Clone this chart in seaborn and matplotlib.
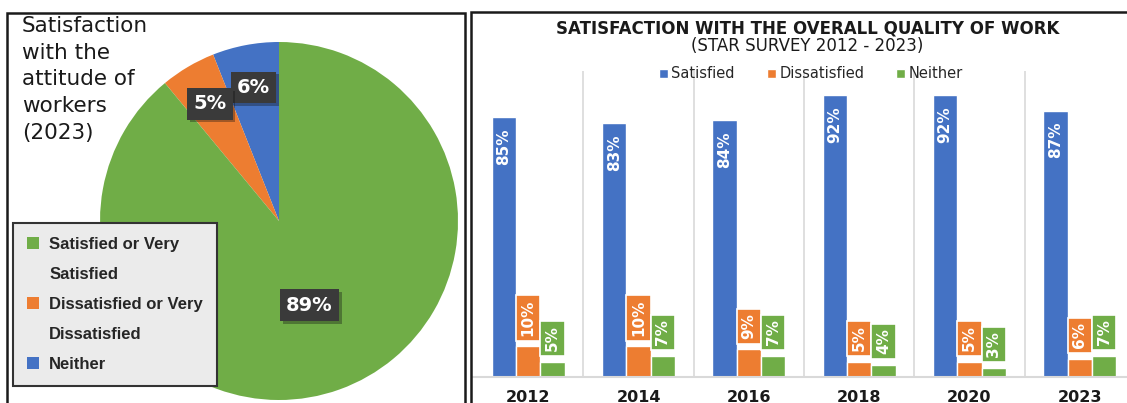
# Satisfaction charts: pie (2023 attitude of workers) + grouped bars (quality of work)
import matplotlib
matplotlib.use("Agg")
import matplotlib.pyplot as plt
import matplotlib.patheffects as pe
from matplotlib.patches import Patch, Rectangle
import numpy as np
import pandas as pd
import seaborn as sns

# -------- data --------
pie_labels = ["Satisfied or Very\nSatisfied", "Dissatisfied or Very\nDissatisfied", "Neither"]
pie_values = [89, 5, 6]

years = ["2012", "2014", "2016", "2018", "2020", "2023"]
responses = ["Satisfied", "Dissatisfied", "Neither"]
satisfied = [85, 83, 84, 92, 92, 87]
dissatisfied = [10, 10, 9, 5, 5, 6]
neither = [5, 7, 7, 4, 3, 7]

BLUE, ORANGE, GREEN = "#4472C4", "#ED7D31", "#70AD47"

sns.set_theme(style="white")
plt.rcParams["font.family"] = ["DejaVu Sans"]

W, H = 1127, 403
fig = plt.figure(figsize=(W / 100, H / 100), dpi=100)
fig.patch.set_facecolor("white")

def fx(px):
    return px / W

def fy(py):
    return 1 - py / H

# panel borders
fig.patches.append(Rectangle((fx(7), fy(420)), fx(465) - fx(7), fy(13) - fy(420),
                             transform=fig.transFigure, fill=False, ec="#1a1a1a", lw=1.8))
fig.patches.append(Rectangle((fx(471), fy(420)), 0.6, fy(12) - fy(420),
                             transform=fig.transFigure, fill=False, ec="#1a1a1a", lw=1.8))

# -------- pie --------
cx, cy, r = 279, 221, 179
ax_pie = fig.add_axes([fx(cx - r), fy(cy + r), (2 * r) / W, (2 * r) / H])
# drawn counter-clockwise from the top: Neither, Dissatisfied, Satisfied
order = [2, 1, 0]
wedges, _ = ax_pie.pie([pie_values[i] for i in order],
                       colors=[[GREEN, ORANGE, BLUE][i] for i in order],
                       startangle=90, counterclock=True,
                       wedgeprops=dict(linewidth=0))
ax_pie.set_xlim(-1, 1)
ax_pie.set_ylim(-1, 1)
for w, i in zip(wedges, order):
    mid = np.deg2rad((w.theta1 + w.theta2) / 2)
    dist = 0.5 if pie_values[i] > 50 else 0.76
    t = ax_pie.text(dist * np.cos(mid), dist * np.sin(mid), f"{pie_values[i]}%",
                    ha="center", va="center", color="white", fontsize=14,
                    fontweight="bold",
                    bbox=dict(boxstyle="square,pad=0.32", fc="#3A3A3A", ec="none"))
    t.get_bbox_patch().set_path_effects([pe.SimplePatchShadow(offset=(2, -2), alpha=0.35),
                                         pe.Normal()])

fig.text(fx(22), fy(16), "Satisfaction\nwith the\nattitude of\nworkers\n(2023)",
         ha="left", va="top", fontsize=15.5, color="#1a1a1a", linespacing=1.42)

# legend with continuation lines
leg_handles, leg_labels = [], []
for lab, col in zip(pie_labels, [GREEN, ORANGE, BLUE]):
    parts = lab.split("\n")
    leg_handles.append(Patch(facecolor=col, edgecolor="none"))
    leg_labels.append(parts[0])
    for p in parts[1:]:
        leg_handles.append(Patch(facecolor="none", edgecolor="none"))
        leg_labels.append(p)
leg = fig.legend(leg_handles, leg_labels, loc="upper left",
                 bbox_to_anchor=(fx(13), fy(223)), borderaxespad=0,
                 frameon=True, fancybox=False, framealpha=1,
                 facecolor="#EBEBEB", edgecolor="#333333",
                 prop=dict(family="Liberation Sans", weight="bold", size=12),
                 handlelength=0.72, handleheight=0.72, handletextpad=0.6,
                 labelspacing=0.9, borderpad=0.85)
leg.get_frame().set_linewidth(1.5)

# -------- bars --------
df = pd.DataFrame({
    "year": years * 3,
    "response": np.repeat(responses, len(years)),
    "pct": satisfied + dissatisfied + neither,
})

ax = fig.add_axes([fx(473), fy(377), 662 / W, (377 - 71) / H])
ax.set_facecolor("none")
sns.barplot(data=df, x="year", y="pct", hue="response", hue_order=responses,
            palette=[BLUE, ORANGE, GREEN], saturation=1, width=0.66, gap=0,
            ax=ax)
ax.set_ylim(0, 100)
ax.set_xlim(-0.5, len(years) - 0.5)
ax.set_xlabel("")
ax.set_ylabel("")
ax.set_yticks([])
for s in ["top", "left", "right"]:
    ax.spines[s].set_visible(False)
ax.spines["bottom"].set_color("#D9D9D9")
ax.spines["bottom"].set_linewidth(1.5)
for k in range(1, len(years)):
    ax.axvline(k - 0.5, color="#D9D9D9", lw=1.2, zorder=0)
ax.tick_params(axis="x", length=0, pad=9)
for lab in ax.get_xticklabels():
    lab.set_fontweight("bold")
    lab.set_fontsize(11.5)
    lab.set_color("#1a1a1a")

for ci, (cont, col) in enumerate(zip(ax.containers, [BLUE, ORANGE, GREEN])):
    for bar in cont:
        val = bar.get_height()
        xc = bar.get_x() + bar.get_width() / 2
        if ci == 0:
            ax.annotate(f"{val:.0f}%", (xc, val), xytext=(0, -8),
                        textcoords="offset points", ha="center", va="top",
                        rotation=90, color="white", fontsize=11, fontweight="bold")
        else:
            ax.annotate(f"{val:.0f}%", (xc, val), xytext=(0, 7.5),
                        textcoords="offset points", ha="center", va="bottom",
                        rotation=90, color="white", fontsize=11, fontweight="bold",
                        bbox=dict(boxstyle="square,pad=0.3", fc=col, ec="white", lw=1.2))

handles, labels = ax.get_legend_handles_labels()
ax.legend(handles, labels, ncol=3, frameon=False, loc="center",
          bbox_to_anchor=(fx(811), fy(74)), bbox_transform=fig.transFigure,
          handlelength=0.6, handleheight=0.6, handletextpad=0.25, columnspacing=2.2,
          prop=dict(family="Liberation Sans Narrow", size=10.5))

fig.text(fx(808), fy(28), "SATISFACTION WITH THE OVERALL QUALITY OF WORK",
         ha="center", va="center", fontsize=12, fontweight="bold", color="#1a1a1a")
fig.text(fx(807), fy(46), "(STAR SURVEY 2012 - 2023)",
         ha="center", va="center", fontsize=12, color="#1a1a1a")

fig.savefig("out.png", dpi=100)
